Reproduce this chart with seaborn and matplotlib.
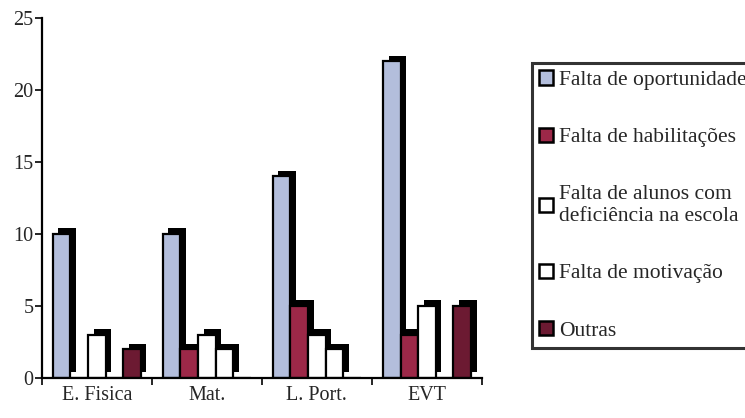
import matplotlib
matplotlib.use("Agg")
import matplotlib.pyplot as plt
import matplotlib.patheffects as pe
import seaborn as sns
import pandas as pd

categories = ["E. Fisica", "Mat.", "L. Port.", "EVT"]
series = ["Falta de oportunidade", "Falta de habilitações",
          "Falta de alunos com\ndeficiência na escola", "Falta de motivação", "Outras"]
oportunidade = [10, 10, 14, 22]
habilitacoes = [0, 2, 5, 3]
alunos = [3, 3, 3, 5]
motivacao = [0, 2, 2, 0]
outras = [2, 0, 0, 5]
yticks = [0, 5, 10, 15, 20, 25]

values = [oportunidade, habilitacoes, alunos, motivacao, outras]
rows = []
for s, vals in zip(series, values):
    for c, v in zip(categories, vals):
        rows.append({"cat": c, "serie": s, "val": v})
df = pd.DataFrame(rows)

colors = ["#b3bedc", "#9c2848", "#ffffff", "#ffffff", "#6c1a32"]

sns.set_style("white")
plt.rcParams["font.family"] = ["Liberation Serif", "DejaVu Serif"]

fig = plt.figure(figsize=(7.45, 4.18), dpi=100)
ax = fig.add_axes([0.056, 0.096, 0.591, 0.861])

sns.barplot(data=df, x="cat", y="val", hue="serie", order=categories,
            hue_order=series, palette=colors, width=0.8, gap=0.0,
            edgecolor="black", linewidth=1.6, saturation=1, ax=ax)

handles, labels = ax.get_legend_handles_labels()
if ax.get_legend() is not None:
    ax.get_legend().remove()

for p in ax.patches:
    p.set_path_effects([pe.SimplePatchShadow(offset=(4, 4), shadow_rgbFace="black", alpha=1.0),
                        pe.Normal()])

ax.set_ylim(0, 25)
ax.set_xlim(-0.5, 3.5)
ax.set_yticks(yticks)
ax.set_xlabel("")
ax.set_ylabel("")
for sp in ["top", "right"]:
    ax.spines[sp].set_visible(False)
for sp in ["left", "bottom"]:
    ax.spines[sp].set_color("black")
    ax.spines[sp].set_linewidth(1.6)
ax.tick_params(axis="y", which="major", direction="out", length=5, width=1.4,
               labelsize=14.5, left=True, pad=1)
ax.tick_params(axis="x", which="major", length=0, labelsize=14.5, pad=6)
ax.set_xticks([-0.5, 0.5, 1.5, 2.5, 3.5], minor=True)
ax.tick_params(axis="x", which="minor", direction="out", length=5, width=1.4, bottom=True)

leg = fig.legend(handles, labels, loc="upper left", bbox_to_anchor=(0.714, 0.85),
                 frameon=True, fancybox=False, fontsize=15.5, labelspacing=1.75,
                 handlelength=0.65, handleheight=0.65, handletextpad=0.25,
                 borderpad=0.35, borderaxespad=0)
leg.get_frame().set_edgecolor("black")
leg.get_frame().set_linewidth(2.2)
for h in leg.legend_handles:
    h.set_path_effects([])
    h.set_edgecolor("black")
    h.set_linewidth(1.8)

fig.savefig("out.png", dpi=100)
